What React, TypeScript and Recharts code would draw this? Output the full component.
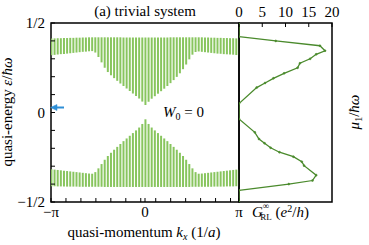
import React from 'react';
import { ComposedChart, LineChart, Bar, Line, XAxis, YAxis, ReferenceArea } from 'recharts';

const PI = Math.PI;

// quasi-momentum grid (61 k-points from -pi to pi)
const kx = Array.from({ length: 61 }, (_, i) => -PI + (i * PI) / 30);

// upper Floquet band: lower and upper edge (units of hbar*omega)
const upperBandBottom = [
  0.320, 0.322, 0.324, 0.326, 0.327, 0.329, 0.331, 0.333, 0.335, 0.337,
  0.339, 0.340, 0.342, 0.343, 0.335, 0.310, 0.280, 0.250, 0.226, 0.208,
  0.192, 0.177, 0.162, 0.148, 0.134, 0.120, 0.106, 0.092, 0.078, 0.061,
  0.042,
  0.060, 0.077, 0.091, 0.105, 0.119, 0.133, 0.148, 0.164, 0.181, 0.199,
  0.219, 0.242, 0.268, 0.297, 0.323, 0.338, 0.341, 0.339, 0.337, 0.335,
  0.333, 0.331, 0.329, 0.328, 0.326, 0.325, 0.324, 0.323, 0.321, 0.320,
];
const upperBandTop = [
  0.414, 0.414, 0.415, 0.415, 0.416, 0.416, 0.417, 0.417, 0.418, 0.418,
  0.419, 0.419, 0.420, 0.420, 0.420, 0.420, 0.420, 0.420, 0.420, 0.420,
  0.420, 0.420, 0.420, 0.419, 0.419, 0.419, 0.419, 0.419, 0.419, 0.419,
  0.419,
  0.419, 0.419, 0.419, 0.419, 0.419, 0.419, 0.419, 0.420, 0.420, 0.420,
  0.420, 0.420, 0.420, 0.420, 0.420, 0.420, 0.420, 0.420, 0.419, 0.419,
  0.418, 0.418, 0.417, 0.417, 0.416, 0.416, 0.415, 0.415, 0.414, 0.414,
];
// lower Floquet band: lower and upper edge
const lowerBandBottom = [
  -0.412, -0.412, -0.413, -0.413, -0.413, -0.414, -0.414, -0.414, -0.414, -0.415,
  -0.415, -0.415, -0.415, -0.415, -0.415, -0.415, -0.415, -0.416, -0.416, -0.416,
  -0.416, -0.416, -0.416, -0.416, -0.416, -0.416, -0.416, -0.416, -0.416, -0.416,
  -0.416,
  -0.416, -0.416, -0.416, -0.416, -0.416, -0.416, -0.416, -0.416, -0.416, -0.416,
  -0.416, -0.416, -0.416, -0.416, -0.415, -0.415, -0.415, -0.415, -0.415, -0.415,
  -0.415, -0.414, -0.414, -0.414, -0.414, -0.413, -0.413, -0.413, -0.412, -0.412,
];
const lowerBandTop = [
  -0.317, -0.319, -0.321, -0.323, -0.325, -0.327, -0.329, -0.331, -0.333, -0.335,
  -0.337, -0.339, -0.341, -0.342, -0.333, -0.312, -0.288, -0.264, -0.243, -0.225,
  -0.208, -0.192, -0.176, -0.160, -0.145, -0.130, -0.115, -0.100, -0.084, -0.064,
  -0.038,
  -0.064, -0.084, -0.100, -0.115, -0.130, -0.145, -0.160, -0.176, -0.192, -0.208,
  -0.225, -0.243, -0.264, -0.288, -0.312, -0.333, -0.342, -0.341, -0.339, -0.337,
  -0.335, -0.333, -0.331, -0.329, -0.327, -0.325, -0.323, -0.321, -0.319, -0.317,
];

// conductance G_RL^inf (e^2/h) versus chemical potential mu_1 (hbar*omega)
const muValues = [
  0.5, 0.435, 0.40, 0.38, 0.35, 0.297, 0.275, 0.247, 0.222, 0.197, 0.172, 0.148,
  0.111, 0.036, -0.05, -0.139, -0.165, -0.191, -0.219, -0.25, -0.275, -0.30,
  -0.325, -0.345, -0.373, -0.40, -0.424, -0.5,
];
const conductance = [
  0, 0, 10.7, 15.8, 16.6, 14.0, 13.5, 11.7, 8.7, 6.8, 5.5, 4.3,
  3.4, 0, 0, 3.8, 5.6, 7.4, 9.7, 12.6, 13.1, 15.3,
  16.6, 18.5, 17.4, 7.9, 0, 0,
];

const xTicks = [...Array.from({ length: 13 }, (_, i) => -PI + 0.5 * i), 0, PI].sort((a, b) => a - b);
const yTicks = [-0.5, -0.4, -0.3, -0.2, -0.1, 0, 0.1, 0.2, 0.3, 0.4, 0.5];
const gTicks = [0, 5, 10, 15, 20];

const bandData = kx.map((k, i) => ({
  k,
  up: [upperBandBottom[i], upperBandTop[i]],
  low: [lowerBandBottom[i], lowerBandTop[i]],
}));
const gData = muValues.map((mu, i) => ({ mu, G: conductance[i] }));

const FONT = '"Liberation Serif", "Times New Roman", serif';
const tickStyle = { fontFamily: FONT, fontSize: 15, fill: '#000' };
const BAND = '#88c55e';
const CURVE = '#4a8a2c';

const fmtK = (v: number) => {
  if (Math.abs(v + PI) < 1e-6) return '\u2212\u03c0';
  if (Math.abs(v - PI) < 1e-6) return '\u03c0';
  if (Math.abs(v) < 1e-6) return '0';
  return '';
};
const fmtE = (v: number) => {
  if (Math.abs(v - 0.5) < 1e-6) return '1/2';
  if (Math.abs(v + 0.5) < 1e-6) return '\u22121/2';
  if (Math.abs(v) < 1e-6) return '0';
  return '';
};

export default function App() {
  return (
    <div style={{ position: 'absolute', left: 0, top: 0, width: 369, height: 245, background: '#fff' }}>
      <div style={{ position: 'absolute', left: 0, top: 0 }}>
        <ComposedChart width={369} height={245} data={bandData} margin={{ top: 22, right: 129, bottom: 42, left: 50 }}>
          <XAxis xAxisId="u" dataKey="k" type="number" domain={[-PI, PI]} allowDataOverflow hide />
          <XAxis xAxisId="l" dataKey="k" type="number" domain={[-PI, PI]} allowDataOverflow hide />
          <XAxis
            xAxisId="b"
            type="number"
            dataKey="k"
            domain={[-PI, PI]}
            allowDataOverflow
            ticks={xTicks}
            interval={0}
            tickFormatter={fmtK}
            height={1}
            axisLine={false}
            tickSize={-4}
            tickMargin={8.5}
            tickLine={{ stroke: '#000', strokeWidth: 1 }}
            tick={tickStyle}
          />
          <XAxis
            xAxisId="t"
            orientation="top"
            type="number"
            dataKey="k"
            domain={[-PI, PI]}
            allowDataOverflow
            ticks={xTicks}
            interval={0}
            height={1}
            axisLine={false}
            tickSize={-4}
            tick={false}
            tickLine={{ stroke: '#000', strokeWidth: 1 }}
          />
          <YAxis
            yAxisId="e"
            type="number"
            domain={[-0.5, 0.5]}
            allowDataOverflow
            ticks={yTicks}
            interval={0}
            tickFormatter={fmtE}
            width={1}
            axisLine={false}
            tickSize={-4}
            tickMargin={10}
            tickLine={{ stroke: '#000', strokeWidth: 1 }}
            tick={tickStyle}
          />
          <YAxis
            yAxisId="r"
            orientation="right"
            type="number"
            domain={[-0.5, 0.5]}
            allowDataOverflow
            ticks={yTicks}
            interval={0}
            width={1}
            axisLine={false}
            tickSize={-4}
            tick={false}
            tickLine={{ stroke: '#000', strokeWidth: 1 }}
          />
          <Bar xAxisId="u" yAxisId="e" dataKey="up" barSize={2} fill={BAND} isAnimationActive={false} />
          <Bar xAxisId="l" yAxisId="e" dataKey="low" barSize={2} fill={BAND} isAnimationActive={false} />
          <ReferenceArea xAxisId="u" yAxisId="e" x1={-PI} x2={PI} y1={-0.5} y2={0.5} fill="none" fillOpacity={0} stroke="#000" strokeWidth={1.5} />
        </ComposedChart>
      </div>
      <div style={{ position: 'absolute', left: 0, top: 0 }}>
        <LineChart width={369} height={245} data={gData} layout="vertical" margin={{ top: 22, right: 37, bottom: 43, left: 239 }}>
          <XAxis
            type="number"
            dataKey="G"
            orientation="top"
            domain={[0, 20]}
            allowDataOverflow
            ticks={gTicks}
            interval={0}
            height={1}
            axisLine={false}
            tickSize={-4}
            tickMargin={10}
            tickLine={{ stroke: '#000', strokeWidth: 1 }}
            tick={tickStyle}
          />
          <YAxis type="number" dataKey="mu" domain={[-0.5, 0.5]} allowDataOverflow hide />
          <Line
            dataKey="G"
            stroke={CURVE}
            strokeWidth={1.3}
            dot={{ r: 1, fill: CURVE, stroke: CURVE, strokeWidth: 0.5 }}
            isAnimationActive={false}
          />
          <ReferenceArea x1={0} x2={20} y1={-0.5} y2={0.5} fill="none" fillOpacity={0} stroke="#000" strokeWidth={1.5} />
        </LineChart>
      </div>
      <svg width={369} height={245} style={{ position: 'absolute', left: 0, top: 0, pointerEvents: 'none' }} fontFamily={FONT}>
        <text x={145} y={16} textAnchor="middle" fontSize={15}>(a) trivial system</text>
        <text x={144} y={237} textAnchor="middle" fontSize={15}>
          quasi-momentum <tspan fontStyle="italic">k</tspan>
          <tspan fontSize={10} fontStyle="italic" dy={3}>x</tspan>
          <tspan dy={-3}> (1/</tspan>
          <tspan fontStyle="italic">a</tspan>)
        </text>
        <text transform="translate(12,112) rotate(-90)" textAnchor="middle" fontSize={15}>
          quasi-energy <tspan fontStyle="italic">ε</tspan>/<tspan fontStyle="italic">ħω</tspan>
        </text>
        <text x={252} y={217} fontSize={15}>
          <tspan fontStyle="italic">G</tspan>
          <tspan fontSize={9} dy={-8}>∞</tspan>
          <tspan fontSize={9} dx={-9} dy={11}>RL</tspan>
          <tspan dy={-3}> (</tspan>
          <tspan fontStyle="italic">e</tspan>
          <tspan fontSize={10} dy={-5}>2</tspan>
          <tspan dy={5}>/</tspan>
          <tspan fontStyle="italic">h</tspan>)
        </text>
        <text transform="translate(359,112) rotate(-90)" textAnchor="middle" fontSize={15}>
          <tspan fontStyle="italic">μ</tspan>
          <tspan fontSize={10} dy={3}>1</tspan>
          <tspan dy={-3}>/</tspan>
          <tspan fontStyle="italic">ħω</tspan>
        </text>
        <text x={163} y={117} fontSize={15}>
          <tspan fontStyle="italic">W</tspan>
          <tspan fontSize={10} dy={3}>0</tspan>
          <tspan dy={-3}> = 0</tspan>
        </text>
        <g fill="#2e8fd6" stroke="#2e8fd6">
          <line x1={56} y1={107.5} x2={64} y2={107.5} strokeWidth={2} />
          <path d="M50.5,107.5 L57,104.5 L57,110.5 Z" strokeWidth={0.5} />
        </g>
      </svg>
    </div>
  );
}
